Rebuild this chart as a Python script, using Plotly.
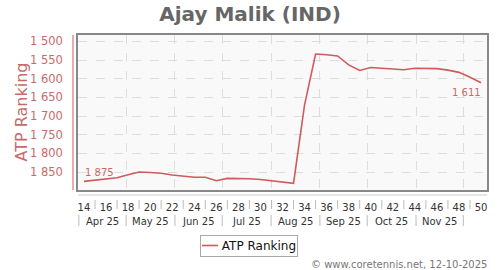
import datetime as dt
import plotly.graph_objects as go

# ---- data ----
weeks = list(range(14, 51))
ranking = [1875, 1871, 1869, 1865, 1857, 1850, 1851, 1853, 1858, 1861,
           1864, 1864, 1873, 1867, 1867, 1868, 1870, 1873, 1877, 1880,
           1670, 1534, 1536, 1539, 1563, 1578, 1570, 1572, 1574, 1576,
           1572, 1573, 1573, 1577, 1583, 1596, 1611]
week_ticks = list(range(14, 51, 2))
month_labels = ["Apr 25", "May 25", "Jun 25", "Jul 25", "Aug 25", "Sep 25", "Oct 25", "Nov 25"]
month_starts = [dt.date(2025, m, 1) for m in range(4, 13)]
y_ticks = [1500, 1550, 1600, 1650, 1700, 1750, 1800, 1850]
series_name = "ATP Ranking"

RED = "#cd5c5c"
LABEL_RED = "#c86a6a"

PW, PH = 409, 155  # plot area size in px (margins below)


def week_pos(d):
    iso = d.isocalendar()
    return iso[1] + iso[2] / 7.0 - 0.75


def px(xp):
    return (xp - 78) / PW


def py(yp):
    return (190 - yp) / PH


month_pos = [week_pos(d) for d in month_starts]

fig = go.Figure()
fig.add_trace(go.Scatter(x=weeks, y=ranking, mode="lines", name=series_name,
                         line=dict(color=RED, width=1.6), showlegend=False))
fig.add_trace(go.Scatter(x=[weeks[0]], y=[ranking[0]], xaxis="x2", mode="markers",
                         marker=dict(opacity=0), showlegend=False, hoverinfo="skip"))

xr = [13.46, 50.54]
fig.update_layout(
    width=500, height=270,
    margin=dict(l=78, r=13, t=35, b=80, autoexpand=False),
    paper_bgcolor="white", plot_bgcolor="#f9f9f9",
    separators=". ",
    font=dict(family="DejaVu Sans", size=12, color="#333"),
    title=dict(text="<b>Ajay Malik (IND)</b>", x=0.5, xref="container", xanchor="center",
               y=1 - 14 / 270, yref="container", yanchor="middle",
               font=dict(size=20, color="#666666", family="DejaVu Sans")),
    xaxis=dict(range=xr, tickvals=week_ticks, ticktext=[str(w) for w in week_ticks],
               showgrid=False, zeroline=False, showline=True, mirror=True, automargin=False,
               linecolor="#888", linewidth=1.5, ticks="", ticklabelstandoff=7,
               tickfont=dict(size=10, color="#333")),
    xaxis2=dict(range=xr, overlaying="x", tickvals=month_pos, showticklabels=False,
                showgrid=True, gridcolor="#dddddd", griddash="dash", gridwidth=1,
                zeroline=False, ticks="", automargin=False),
    yaxis=dict(range=[1898, 1483], tickvals=y_ticks, tickformat=",d", automargin=False,
               showgrid=True, gridcolor="#dddddd", griddash="dash", gridwidth=1,
               zeroline=False, showline=True, mirror=True, linecolor="#888", linewidth=1.5,
               ticks="", ticklabelstandoff=11,
               tickfont=dict(size=11.5, color=LABEL_RED)),
    showlegend=False,
)

# y axis title
fig.add_annotation(x=px(21), xref="paper", y=0.5, yref="paper", text=series_name,
                   textangle=-90, showarrow=False, xanchor="center", yanchor="middle",
                   font=dict(size=16, color=LABEL_RED))

# red y-axis line offset from the plot frame
fig.add_shape(type="line", xref="paper", yref="paper", x0=px(73), x1=px(73), y0=0, y1=1,
              line=dict(color=RED, width=1))
# lower axis line
fig.add_shape(type="line", xref="paper", yref="paper", x0=0, x1=1, y0=py(195), y1=py(195),
              line=dict(color="#cccccc", width=1))
for w in range(15, 50, 2):
    fig.add_shape(type="line", xref="x", yref="paper", x0=w, x1=w,
                  y0=py(200), y1=py(209), line=dict(color="#bbbbbb", width=1))
for p in month_pos:
    fig.add_shape(type="line", xref="x", yref="paper", x0=p, x1=p,
                  y0=py(215), y1=py(226), line=dict(color="#bbbbbb", width=1))
for i, lab in enumerate(month_labels):
    fig.add_annotation(x=(month_pos[i] + month_pos[i + 1]) / 2, xref="x",
                       y=py(221), yref="paper", text=lab, showarrow=False,
                       font=dict(size=10, color="#333"), xanchor="center", yanchor="middle")

# data labels
fig.add_annotation(x=weeks[0], y=ranking[0], text=f"{ranking[0]:,}".replace(",", " "),
                   showarrow=False, xanchor="left", yanchor="bottom", yshift=1, xshift=-1,
                   font=dict(size=10, color=LABEL_RED))
fig.add_annotation(x=weeks[-1], y=ranking[-1], text=f"{ranking[-1]:,}".replace(",", " "),
                   showarrow=False, xanchor="right", yanchor="top", yshift=-2, xshift=2,
                   font=dict(size=10, color=LABEL_RED))

# manual legend: bordered box (annotation) plus line sample
fig.add_annotation(x=px(249), xref="paper", y=py(245.5), yref="paper", text=series_name,
                   showarrow=False, xanchor="center", yanchor="middle",
                   width=94, height=18, align="right", borderpad=1,
                   bordercolor="#aaaaaa", borderwidth=1,
                   font=dict(size=12, color="#111"))
fig.add_shape(type="line", xref="paper", yref="paper", x0=px(202), x1=px(218),
              y0=py(245.5), y1=py(245.5), line=dict(color=RED, width=1.6))

# footer
fig.add_annotation(x=px(489), xref="paper", y=py(264), yref="paper",
                   text="© www.coretennis.net, 12-10-2025", showarrow=False,
                   xanchor="right", yanchor="middle", font=dict(size=10, color="#777"))

fig.write_html("out.html")
